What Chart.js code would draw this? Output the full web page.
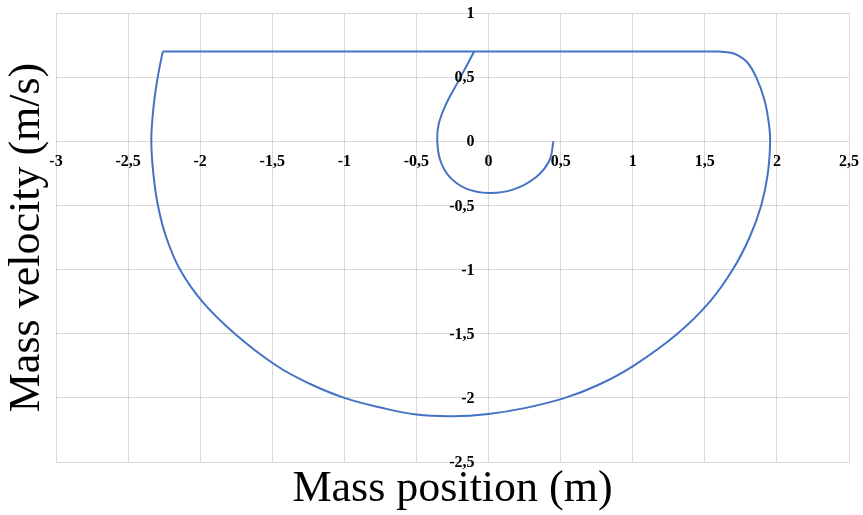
<!DOCTYPE html>
<html lang="en">
<head>
<meta charset="UTF-8">
<title>Mass phase portrait</title>
<script src="https://cdn.jsdelivr.net/npm/chart.js@4.4.1/dist/chart.umd.min.js"></script>
<style>
  html, body { margin: 0; padding: 0; background: #fff; }
  #wrap { width: 863px; height: 515px; }
</style>
</head>
<body>
<div id="wrap"><canvas id="phaseChart"></canvas></div>
<script>
// tick values (labels are printed with a decimal comma)
var xTicks = [-3, -2.5, -2, -1.5, -1, -0.5, 0, 0.5, 1, 1.5, 2, 2.5];
var yTicks = [-2.5, -2, -1.5, -1, -0.5, 0, 0.5, 1];

// start of the trajectory: small spiral out of rest
var spiralPos = [0.45, 0.423, 0.331, 0.169, 0, -0.155, -0.27, -0.335, -0.356, -0.345, -0.293, -0.206, -0.10];
var spiralVel = [0, -0.148, -0.278, -0.377, -0.403, -0.369, -0.278, -0.148, 0.008, 0.138, 0.294, 0.475, 0.70];

// velocity plateau
var plateauPos = [-2.259, 1.60];
var plateauVel = [0.70, 0.70];

// return loop, from the end of the plateau round to its start
var loopPos = [1.60, 1.70, 1.79, 1.856, 1.914, 1.944, 1.953, 1.937, 1.891, 1.81, 1.694, 1.535, 1.31, 1.005,
  0.76, 0.53, 0.25, 0, -0.25, -0.5, -0.75, -1.0, -1.24, -1.47, -1.76, -1.985, -2.14, -2.235, -2.293,
  -2.325, -2.339, -2.328, -2.309, -2.286, -2.259];
var loopVel = [0.70, 0.684, 0.62, 0.50, 0.32, 0.14, 0, -0.25, -0.5, -0.75, -1.0, -1.25, -1.5, -1.75,
  -1.90, -2.0, -2.08, -2.125, -2.143, -2.13, -2.075, -2.0, -1.89, -1.75, -1.5, -1.25, -1.0, -0.75, -0.5,
  -0.25, 0, 0.216, 0.397, 0.553, 0.70];

var lineColor = '#4472C4';
var gridColor = '#d9d9d9';
var serif = '"Liberation Serif", "Times New Roman", serif';

function toPoints(xs, ys) {
    return xs.map(function (x, i) { return { x: x, y: ys[i] }; });
}

function fmt(v) {
    return String(v).replace('.', ',');
}

function pathSet(xs, ys, tension) {
    return {
        data: toPoints(xs, ys),
        showLine: true,
        borderColor: lineColor,
        borderWidth: 2,
        pointRadius: 0,
        tension: tension,
        fill: false
    };
}

// tick labels sit along the zero lines, like a crossing-axes plot
var zeroAxisLabels = {
    id: 'zeroAxisLabels',
    afterDraw: function (chart) {
        var ctx = chart.ctx;
        var xs = chart.scales.x, ys = chart.scales.y;
        var x0 = xs.getPixelForValue(0), y0 = ys.getPixelForValue(0);
        ctx.save();
        ctx.font = 'bold 16px ' + serif;
        ctx.fillStyle = '#000';
        ctx.textBaseline = 'middle';
        ctx.textAlign = 'center';
        xTicks.forEach(function (v) {
            ctx.fillText(fmt(v), xs.getPixelForValue(v), y0 + 21);
        });
        ctx.textAlign = 'right';
        yTicks.forEach(function (v) {
            ctx.fillText(fmt(v), x0 - 14, ys.getPixelForValue(v) + 1);
        });
        ctx.restore();
    }
};

var ctx = document.getElementById('phaseChart').getContext('2d');
var phaseChart = new Chart(ctx, {
    type: 'scatter',
    data: {
        datasets: [
            pathSet(spiralPos, spiralVel, 0.4),
            pathSet(plateauPos, plateauVel, 0),
            pathSet(loopPos, loopVel, 0.4)
        ]
    },
    options: {
        responsive: true,
        maintainAspectRatio: false,
        animation: false,
        layout: { padding: { top: 13, right: 14, left: 0, bottom: 0 } },
        plugins: { legend: { display: false }, tooltip: { enabled: false } },
        scales: {
            x: {
                type: 'linear',
                position: 'bottom',
                min: -3,
                max: 2.5,
                ticks: { display: false, stepSize: 0.5 },
                grid: { color: gridColor, drawTicks: false },
                border: { color: gridColor },
                title: {
                    display: true,
                    text: 'Mass position (m)',
                    color: '#000',
                    font: { family: serif, size: 44, lineHeight: 1 },
                    padding: { top: 0, bottom: 4 }
                },
                afterFit: function (s) { s.height = 53; }
            },
            y: {
                type: 'linear',
                position: 'left',
                min: -2.5,
                max: 1,
                ticks: { display: false, stepSize: 0.5 },
                grid: { color: gridColor, drawTicks: false },
                border: { color: gridColor },
                title: {
                    display: true,
                    text: 'Mass velocity (m/s)',
                    color: '#000',
                    font: { family: serif, size: 44, lineHeight: 1 },
                    padding: { top: 5, bottom: 0 }
                },
                afterFit: function (s) { s.width = 56; }
            }
        }
    },
    plugins: [zeroAxisLabels]
});
</script>
</body>
</html>
